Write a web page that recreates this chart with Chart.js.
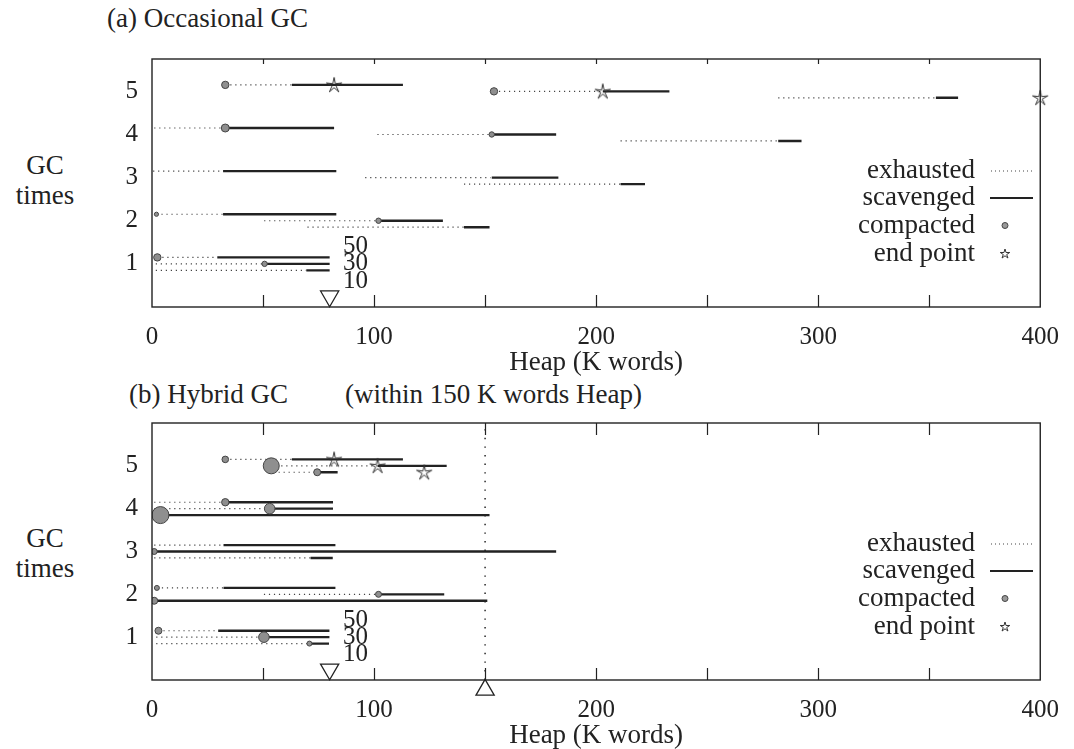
<!DOCTYPE html>
<html>
<head>
<meta charset="utf-8">
<script src="https://cdn.jsdelivr.net/npm/chart.js@4.4.1/dist/chart.umd.min.js"></script>
<style>
html, body { margin:0; padding:0; background:#fff; width:1074px; height:749px; overflow:hidden; }
.t { position:absolute; font-family:'Liberation Serif', serif; font-size:27px; line-height:27px; color:#222; white-space:nowrap; }
.yt { position:absolute; left:0; width:90px; text-align:center; font-family:'Liberation Serif', serif; font-size:27px; line-height:30px; color:#222; }
canvas { position:absolute; left:0; }
</style>
</head>
<body>
<div class="t" style="left:107px;top:5px">(a) Occasional GC</div>
<div class="yt" style="top:150px">GC<br>times</div>
<div class="t" style="left:129px;top:381px">(b) Hybrid GC</div>
<div class="t" style="left:345px;top:381px">(within 150 K words Heap)</div>
<div class="yt" style="top:523px">GC<br>times</div>

<canvas id="chA" width="1074" height="380" style="top:0"></canvas>
<canvas id="chB" width="1074" height="369" style="top:380px"></canvas>

<script>
// GC times (rows) and the three heap settings drawn in each row
var gcTimes = [1, 2, 3, 4, 5];
var params = [50, 30, 10];
var xTicks = [0, 100, 200, 300, 400];

// (a) occasional GC: [gc time, setting, from, to] in K words
var exhaustedA = [
  [5,50,33,63],[5,30,154,203],[5,10,282,353],
  [4,50,1,33],[4,30,101.5,153],[4,10,211,282],
  [3,50,0.5,32],[3,30,96,152.5],[3,10,140.5,211],
  [2,50,2,32],[2,30,50.5,102],[2,10,70,140.5],
  [1,50,2.4,29.4],[1,30,1.7,50.7],[1,10,1.7,69.5]
];
var scavengedA = [
  [5,50,63,113],[5,30,203,233],[5,10,353,363],
  [4,50,33,82],[4,30,153,182],[4,10,282,292.5],
  [3,50,32,83],[3,30,153,183],[3,10,211,222],
  [2,50,32,83],[2,30,102,131],[2,10,140.5,152],
  [1,50,29.4,80],[1,30,50.7,80],[1,10,69.5,80]
];
// [gc time, setting, heap, relative amount compacted]
var compactedA = [[5,50,33,2.2],[5,30,154,2.2],[4,50,33,2.5],[4,30,153,1.2],
  [2,50,2,0.6],[2,30,102,1.2],[1,50,2.4,2.2],[1,30,50.7,1.2]];
var endPointsA = [[5,50,82],[5,30,203],[5,10,400]];

// (b) hybrid GC
var exhaustedB = [
  [5,50,33,63],[5,30,53.7,101.6],[5,10,57,74.4],
  [4,50,1,33],[4,30,1,53],
  [3,50,1,32.2],[3,10,1,71.4],
  [2,50,2.2,32.2],[2,30,50.4,102],
  [1,50,2.9,29.8],[1,30,1.9,50.4],[1,10,1.9,70.9]
];
var scavengedB = [
  [5,50,63,113],[5,30,101.6,132.7],[5,10,74.4,83.6],
  [4,50,33,81.5],[4,30,53,81.5],[4,10,3.8,152],
  [3,50,32.2,82.6],[3,30,1,182],[3,10,71.4,81.4],
  [2,50,32.2,82.6],[2,30,102,131.6],[2,10,1,151],
  [1,50,29.8,79.9],[1,30,50.4,79.9],[1,10,70.9,79.7]
];
var compactedB = [[5,50,33,1.8],[5,30,53.7,6.5],[5,10,74.4,2],[4,50,33,2.2],[4,30,53,3.8],
  [4,10,3.8,7],[3,30,1,1.5],[2,50,2.2,1],[2,30,102,1.5],[2,10,1,2],
  [1,50,2.9,2],[1,30,50.4,3.8],[1,10,70.9,1]];
var endPointsB = [[5,50,82],[5,30,101.6],[5,10,122.6]];

// start heap marker and heap limit of the hybrid GC
var startHeap = [80];
var heapLimitB = [150];

var FONT = 'Liberation Serif';
var INK = '#222';
var LANE = 0.15;

function laneY(g, p) {
  return g + (1 - params.indexOf(p)) * LANE;
}
function segData(list) {
  var out = [];
  list.forEach(function(s) {
    var y = laneY(s[0], s[1]);
    out.push({x: s[2], y: y}, {x: s[3], y: y}, {x: s[3], y: null});
  });
  return out;
}

function starPath(ctx, cx, cy, R, r) {
  ctx.beginPath();
  for (var i = 0; i < 10; i++) {
    var a = -Math.PI / 2 + i * Math.PI / 5;
    var d = i % 2 ? r : R;
    ctx.lineTo(cx + d * Math.cos(a), cy + d * Math.sin(a));
  }
  ctx.closePath();
}
var starImg = document.createElement('canvas');
starImg.width = 18; starImg.height = 18;
(function() {
  var c = starImg.getContext('2d');
  starPath(c, 9, 9.5, 8, 2.2);
  c.strokeStyle = '#333'; c.lineWidth = 1; c.stroke();
})();

// frame, inner ticks, setting labels and legend
function panelPlugin(topTick) {
  return {
    id: 'panel',
    afterDraw: function(chart) {
      var ctx = chart.ctx, a = chart.chartArea, xs = chart.scales.x, ys = chart.scales.y;
      ctx.save();
      ctx.strokeStyle = INK;
      ctx.lineWidth = 1.4;
      ctx.strokeRect(a.left, a.top, a.right - a.left, a.bottom - a.top);
      ctx.lineWidth = 1.2;
      xs.ticks.forEach(function(t) {
        if (t.value <= xs.min || t.value >= xs.max) return;
        var px = Math.round(xs.getPixelForValue(t.value)) + 0.5;
        ctx.beginPath();
        ctx.moveTo(px, a.bottom); ctx.lineTo(px, a.bottom - 12);
        ctx.moveTo(px, a.top); ctx.lineTo(px, a.top + topTick);
        ctx.stroke();
      });
      // setting labels next to the first GC
      ctx.fillStyle = INK;
      ctx.font = '25px "' + FONT + '"';
      ctx.textAlign = 'left';
      ctx.textBaseline = 'middle';
      params.forEach(function(p, i) {
        ctx.fillText(String(p), xs.getPixelForValue(86), ys.getPixelForValue(1 + (1 - i) * 0.4));
      });
      // legend
      ctx.font = '27px "' + FONT + '"';
      ctx.textAlign = 'right';
      var items = ['exhausted', 'scavenged', 'compacted', 'end point'];
      var offs = [136, 109, 81.5, 53];
      items.forEach(function(name, i) {
        var y = a.bottom - offs[i];
        ctx.fillStyle = INK;
        ctx.fillText(name, 975, y);
        if (i === 0) {
          ctx.setLineDash([1, 3]); ctx.lineWidth = 1.1; ctx.strokeStyle = '#444';
          ctx.beginPath(); ctx.moveTo(991, y); ctx.lineTo(1032, y); ctx.stroke();
          ctx.setLineDash([]);
        } else if (i === 1) {
          ctx.lineWidth = 2.2; ctx.strokeStyle = INK;
          ctx.beginPath(); ctx.moveTo(990, y); ctx.lineTo(1033, y); ctx.stroke();
        } else if (i === 2) {
          ctx.beginPath(); ctx.arc(1005, y, 3, 0, Math.PI * 2);
          ctx.fillStyle = '#999'; ctx.fill();
          ctx.lineWidth = 1; ctx.strokeStyle = '#444'; ctx.stroke();
        } else {
          starPath(ctx, 1005, y, 5, 1.8);
          ctx.lineWidth = 1; ctx.strokeStyle = '#333'; ctx.stroke();
        }
      });
      ctx.restore();
    }
  };
}

function makeChart(id, opts) {
  var datasets = [
    {
      data: opts.compacted.map(function(c) { return {x: c[2], y: laneY(c[0], c[1])}; }),
      showLine: false,
      pointRadius: opts.compacted.map(function(c) { return 1.5 + c[3]; }),
      pointBackgroundColor: '#8f8f8f', pointBorderColor: '#444', pointBorderWidth: 1,
      order: 0
    },
    {
      data: opts.ends.map(function(e) { return {x: e[2], y: laneY(e[0], e[1])}; }),
      showLine: false, pointStyle: starImg, pointRadius: 8, clip: false,
      order: 0
    },
    {
      data: segData(opts.scavenged), borderColor: INK, borderWidth: 2.4,
      pointRadius: 0, spanGaps: false, order: 1
    },
    {
      data: segData(opts.exhausted), borderColor: '#444', borderWidth: 1.2,
      borderDash: [1.2, 3.8], pointRadius: 0, spanGaps: false, order: 2
    },
    {
      data: startHeap.map(function(v) { return {x: v, y: 0.25}; }),
      showLine: false, pointStyle: 'triangle', pointRotation: 180, pointRadius: 10.5,
      pointBackgroundColor: 'rgba(255,255,255,0)', pointBorderColor: INK, pointBorderWidth: 1.3,
      clip: false, order: 0
    }
  ];
  if (opts.limit) {
    opts.limit.forEach(function(v) {
      datasets.push({
        data: [{x: v, y: 0}, {x: v, y: opts.ymax}], borderColor: '#333', borderWidth: 1.6,
        borderDash: [1.4, 7.2], pointRadius: 0, order: 3
      });
      datasets.push({
        data: [{x: v, y: -0.23}], showLine: false, pointStyle: 'triangle', pointRadius: 10.5,
        pointBackgroundColor: '#fff', pointBorderColor: INK, pointBorderWidth: 1.3,
        clip: false, order: 0
      });
    });
  }
  return new Chart(document.getElementById(id), {
    type: 'line',
    data: { datasets: datasets },
    options: {
      responsive: false, animation: false, devicePixelRatio: 1,
      layout: { padding: { top: opts.padTop, right: 31, left: 0, bottom: 0 } },
      plugins: { legend: { display: false }, tooltip: { enabled: false } },
      scales: {
        x: {
          type: 'linear', min: 0, max: 400,
          grid: { display: false, drawTicks: false }, border: { display: false },
          ticks: {
            stepSize: 50, autoSkip: false, maxRotation: 0, padding: 15, color: INK,
            font: { family: FONT, size: 25, lineHeight: 1.2 },
            callback: function(v) { return xTicks.indexOf(v) >= 0 ? String(v) : ''; }
          },
          title: {
            display: true, text: 'Heap (K words)', color: INK,
            font: { family: FONT, size: 27, lineHeight: 1 },
            padding: { top: 0, bottom: opts.titlePad }
          },
          afterFit: function(s) { s.height = opts.xHeight; }
        },
        y: {
          type: 'linear', min: 0, max: opts.ymax,
          grid: { display: false, drawTicks: false }, border: { display: false },
          ticks: {
            stepSize: 1, autoSkip: false, padding: 14, color: INK,
            font: { family: FONT, size: 25, lineHeight: 1.2 },
            callback: function(v) { return gcTimes.indexOf(v) >= 0 ? String(v) : ''; }
          },
          afterFit: function(s) { s.width = 152; }
        }
      }
    },
    plugins: [panelPlugin(opts.topTick)]
  });
}

makeChart('chA', {
  exhausted: exhaustedA, scavenged: scavengedA, compacted: compactedA, ends: endPointsA,
  ymax: 5.75, padTop: 59, xHeight: 73, titlePad: 3.5, topTick: 5
});
makeChart('chB', {
  exhausted: exhaustedB, scavenged: scavengedB, compacted: compactedB, ends: endPointsB,
  limit: heapLimitB,
  ymax: 6, padTop: 43, xHeight: 69, titlePad: 0, topTick: 12
});
</script>
</body>
</html>
